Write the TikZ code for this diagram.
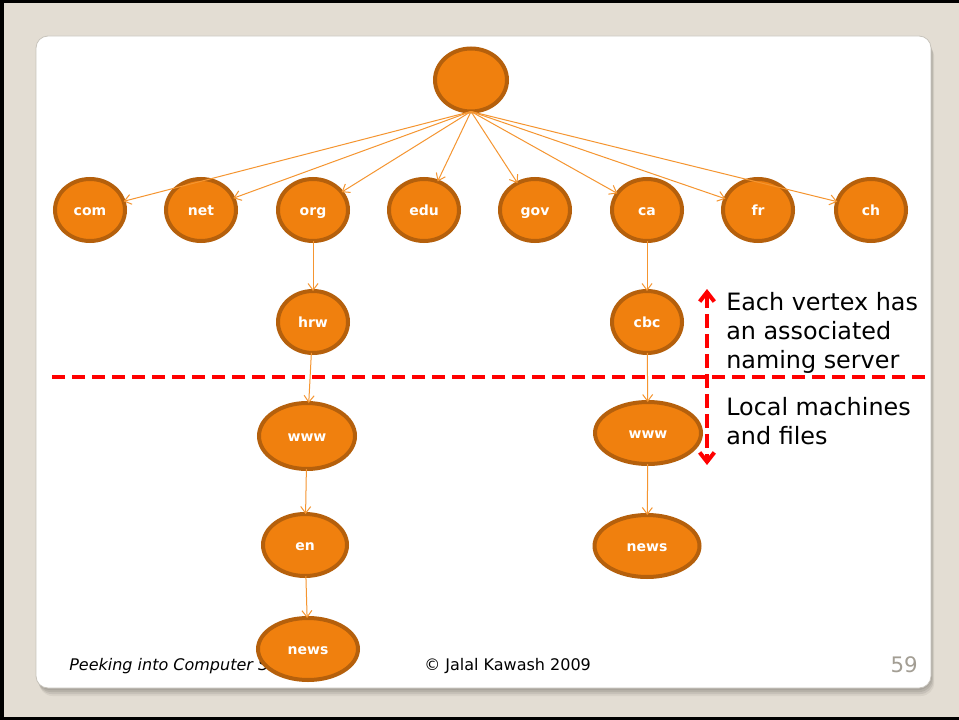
\documentclass[tikz,border=0pt]{standalone}
\usepackage{fontspec}
\setmainfont{DejaVu Sans}
\usetikzlibrary{arrows.meta,shapes.geometric}

\definecolor{pagebg}{HTML}{E3DDD3}
\definecolor{nodefill}{HTML}{F0800E}
\definecolor{nodeedge}{HTML}{B5600C}
\definecolor{edgeline}{HTML}{F59530}
\definecolor{shadowgray}{HTML}{8E8A82}
\definecolor{cardline}{HTML}{C8C4BC}
\definecolor{pagenum}{HTML}{A39E94}
\definecolor{marker}{HTML}{FF0000}

\begin{document}
\begin{tikzpicture}[x=0.75pt,y=-0.75pt,
  vert/.style 2 args={ellipse, draw=nodeedge, line width=3pt, fill=nodefill,
    inner sep=0pt, outer sep=0pt,
    minimum width=#1*0.75pt, minimum height=#2*0.75pt,
    text height=7.5pt, text depth=0pt,
    text=white, font=\bfseries\fontsize{10.5}{12}\selectfont},
  link/.style={draw=edgeline, line width=0.75pt,
    -{Straight Barb[length=5pt,width=7.5pt]}},
  divider/.style={draw=marker, line width=3pt, dash pattern=on 10pt off 5pt},
  span/.style={draw=marker, line width=3pt, dash pattern=on 10pt off 5pt,
    {Straight Barb[length=7pt,width=11pt]}-{Straight Barb[length=7pt,width=11pt]}},
  note/.style={anchor=base west, inner sep=0pt, font=\fontsize{17.9}{21}\selectfont},
  foot/.style={anchor=base west, inner sep=0pt, font=\fontsize{12}{14}\selectfont}]

\useasboundingbox (0,0) rectangle (959,720);

% frame and page background
\fill[black] (0,0) rectangle (959,720);
\fill[pagebg] (4,3) rectangle (959,717);

% card shadow and card
\foreach \d/\o in {2/0.3,4/0.28,6/0.22,8/0.14}
  \fill[shadowgray, opacity=\o, rounded corners=10pt]
    (36+\d*0.4,36+\d) rectangle (931+\d*0.4,688+\d);
\filldraw[fill=white, draw=cardline, line width=0.6pt, rounded corners=9pt]
  (36,36) rectangle (931,688);

% footer
\node[foot, font=\itshape\fontsize{12}{14}\selectfont] (title) at (69,670) {Peeking into Computer Science};
\node[foot] (copy) at (424,670) {© Jalal Kawash 2009};
\node[anchor=base east, inner sep=0pt, text=pagenum, font=\fontsize{16}{18}\selectfont] (pnum) at (918,672) {59};

% root and top-level domains
\node[vert={72}{63}] (root) at (471,80) {};
\foreach \name/\x in {com/90,net/201,org/313,edu/424,gov/535,ca/647,fr/758,ch/871}
  \node[vert={70}{62}] (\name) at (\x,210) {\name};

% second and lower levels
\node[vert={70}{62}] (hrw) at (313,322) {hrw};
\node[vert={96}{66}] (wwwa) at (307,436) {www};
\node[vert={84}{62}] (en) at (305,545) {en};
\node[vert={100}{62}] (newsa) at (308,649) {news};

\node[vert={70}{62}] (cbc) at (647,322) {cbc};
\node[vert={106}{62}] (wwwb) at (648,433) {www};
\node[vert={105}{62}] (newsb) at (647,546) {news};

% connectors
\foreach \name in {com,net,org,edu,gov,ca,fr,ch}
  \draw[link] (root.south) -- (\name);
\draw[link] (org) -- (hrw);
\draw[link] (hrw) -- (wwwa);
\draw[link] (wwwa) -- (en);
\draw[link] (en) -- (newsa);
\draw[link] (ca) -- (cbc);
\draw[link] (cbc) -- (wwwb);
\draw[link] (wwwb) -- (newsb);

% naming-server boundary
\coordinate (divl) at (52,377);
\coordinate (divr) at (925,377);
\draw[divider] (divl) -- (divr);
\coordinate (spantop) at (707,289);
\coordinate (spanbot) at (707,465);
\draw[span] (spantop) -- (spanbot);

% notes
\node[note] (n1) at (726,310) {Each vertex has};
\node[note] (n2) at (726,339) {an associated};
\node[note] (n3) at (726,368) {naming server};
\node[note] (n4) at (726,415) {Local machines};
\node[note] (n5) at (726,444) {and files};
\end{tikzpicture}
\end{document}
